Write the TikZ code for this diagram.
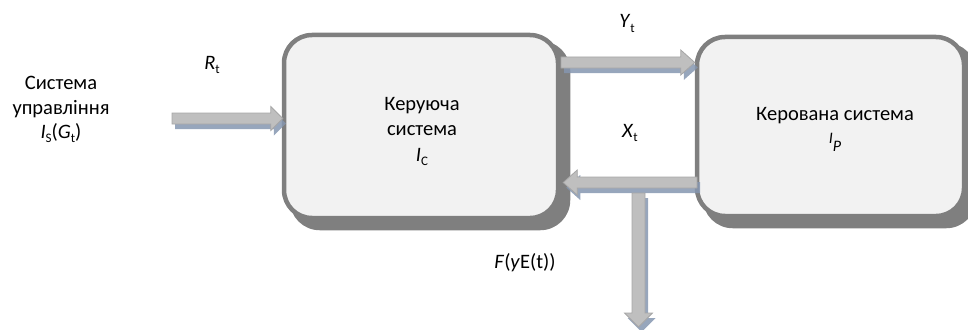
\documentclass[tikz,border=0pt]{standalone}
\usepackage{fontspec}
\setmainfont{Carlito}
\usetikzlibrary{calc,backgrounds}
\definecolor{boxfill}{HTML}{F2F2F2}
\definecolor{boxline}{HTML}{7F7F7F}
\definecolor{arrfill}{HTML}{BFBFBF}
\definecolor{arrline}{HTML}{A6A6A6}
\definecolor{arrshade}{HTML}{8596B0}
\tikzset{
  sysbox/.style={draw=boxline, line width=4.5pt, fill=boxfill, rounded corners=28pt},
  boxshadow/.style={fill=boxline, rounded corners=30pt},
  lbl/.style={anchor=base, inner sep=0pt, font=\fontsize{20.5}{24}\selectfont},
  arrbody/.style={fill=arrfill, draw=arrline, line width=0.8pt},
  arrshadow/.style={fill=arrshade, opacity=0.85},
}
\newcommand\lowsub[1]{\raisebox{-0.22em}{\fontsize{13}{13}\selectfont #1}}
\newcommand\BlockArrow[5]{%
  \fill[arrshadow] let \p1=#1, \p2=#2, \n1={veclen(\x2-\x1,\y2-\y1)}, \n2={atan2(\y2-\y1,\x2-\x1)} in
    [shift={(\x1+3pt,\y1-5pt)}, rotate=\n2]
    (0pt,-#3) -- (\n1-#5,-#3) -- (\n1-#5,-#4) -- (\n1,0pt) -- (\n1-#5,#4) -- (\n1-#5,#3) -- (0pt,#3) -- cycle;
  \filldraw[arrbody] let \p1=#1, \p2=#2, \n1={veclen(\x2-\x1,\y2-\y1)}, \n2={atan2(\y2-\y1,\x2-\x1)} in
    [shift={(\p1)}, rotate=\n2]
    (0pt,-#3) -- (\n1-#5,-#3) -- (\n1-#5,-#4) -- (\n1,0pt) -- (\n1-#5,#4) -- (\n1-#5,#3) -- (0pt,#3) -- cycle;
}
\begin{document}
\begin{tikzpicture}[x=1pt,y=-1pt]
\useasboundingbox (0,0) rectangle (968,329);
% boxes
\node[sysbox, minimum width=274pt, minimum height=183pt] (ctl) at (421,126.5) {};
\node[sysbox, minimum width=267pt, minimum height=179pt] (ctrld) at (830.5,126.5) {};
\begin{pgfonlayer}{background}
  \fill[boxshadow] ($(ctl.north west)+(8,8)$) rectangle ($(ctl.south east)+(10,10)$);
  \fill[boxshadow] ($(ctrld.north west)+(8,8)$) rectangle ($(ctrld.south east)+(10,10)$);
\end{pgfonlayer}
% arrow end points
\coordinate (rtS) at (172,118.5);
\coordinate (ytS) at (561,62.5);
\coordinate (xtS) at (697,182.5);
\coordinate (fS) at (638.5,193);
\coordinate (fE) at (638.5,327);
% arrows
\BlockArrow{(rtS)}{($(ctl.west|-rtS)+(1,0)$)}{5.5pt}{12pt}{12pt}
\BlockArrow{(ytS)}{(ctrld.west|-ytS)}{5.5pt}{12.5pt}{14pt}
\BlockArrow{(xtS)}{($(ctl.east|-xtS)+(3,0)$)}{5.5pt}{12.5pt}{14pt}
\BlockArrow{(fS)}{(fE)}{6.5pt}{14pt}{14pt}
% labels
\node[lbl] (s1) at (61,89) {Система};
\node[lbl] (s2) at (61,114) {управління};
\node[lbl] (s3) at (61,138) {\textit{I}\lowsub{S}(\textit{G}\lowsub{t})};
\node[lbl] (rt) at (212,69) {\textit{R}\lowsub{t}};
\node[lbl] (c1) at (422,110) {Керуюча};
\node[lbl] (c2) at (422,135) {система};
\node[lbl] (c3) at (422,161) {\textit{I}\lowsub{C}};
\node[lbl] (ytl) at (627,28) {\textit{Y}\lowsub{t}};
\node[lbl] (xtl) at (630,137) {\textit{X}\lowsub{t}};
\node[lbl] (p1) at (835,120) {Керована система};
\node[lbl] (p2) at (835,146) {{\fontsize{16}{16}\selectfont\raisebox{3pt}{\textit{I}}\raisebox{-5pt}{\textit{P}}}};
\node[lbl] (fl) at (525,268) {\textit{F}(\textit{y}E(t))};
\end{tikzpicture}
\end{document}
